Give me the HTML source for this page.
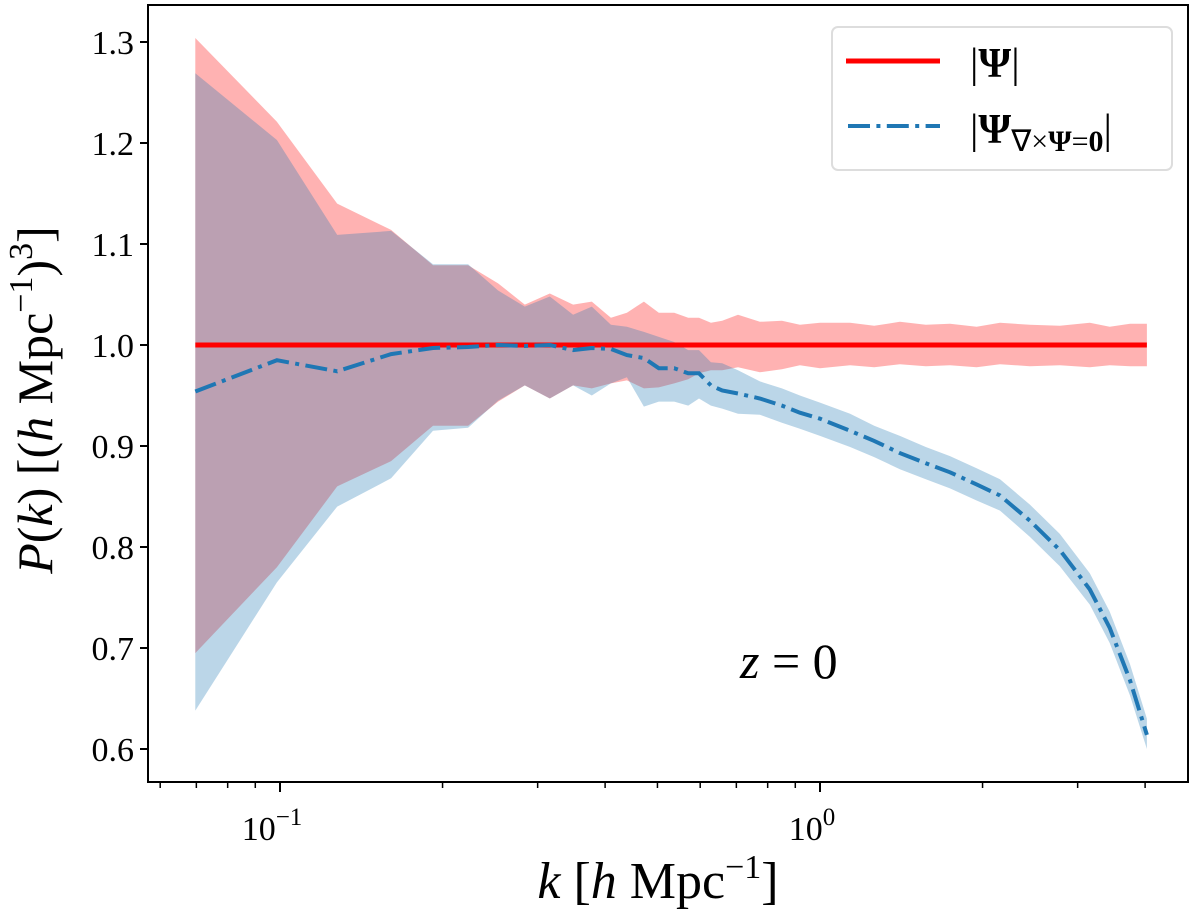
<!DOCTYPE html>
<html><head><meta charset="utf-8"><style>
body{margin:0;background:#fff}
svg text{font-family:"Liberation Serif",serif;fill:#000}
</style></head><body>
<svg id="chart" width="1200" height="915" xmlns="http://www.w3.org/2000/svg">
<g id="bands"></g>
<g id="lines"></g>
<rect x="148" y="5" width="1040" height="777" fill="none" stroke="#000" stroke-width="2"/>
<g id="yticks"></g>
<g id="xticks"></g>
<text x="658" y="898" font-size="52" text-anchor="middle"><tspan font-style="italic">k</tspan> [<tspan font-style="italic">h</tspan> Mpc<tspan dy="-20" font-size="34">−1</tspan><tspan dy="20">]</tspan></text>
<text transform="translate(52,400) rotate(-90)" font-size="50" text-anchor="middle"><tspan font-style="italic">P</tspan>(<tspan font-style="italic">k</tspan>) [(<tspan font-style="italic">h</tspan> Mpc<tspan dy="-20" font-size="34">−1</tspan><tspan dy="20">)</tspan><tspan dy="-20" font-size="34">3</tspan><tspan dy="20">]</tspan></text>
<text x="740" y="678" font-size="50"><tspan font-style="italic">z</tspan> = 0</text>
<g>
<rect x="832" y="27" width="340" height="143" rx="6" fill="#fff" fill-opacity="0.85" stroke="#ddd" stroke-width="2"/>
<line x1="846" y1="61" x2="940" y2="61" stroke="#ff0000" stroke-width="5"/>
<text x="970" y="77" font-size="42">|<tspan font-weight="bold">Ψ</tspan>|</text>
<line x1="848" y1="126" x2="940" y2="126" stroke="#1f77b4" stroke-width="4" stroke-dasharray="22,6.4,4,6.4"/>
<text x="970" y="143" font-size="42">|<tspan font-weight="bold">Ψ</tspan><tspan font-size="30" dy="8">∇×<tspan font-weight="bold">Ψ</tspan>=<tspan font-weight="bold">0</tspan></tspan><tspan dy="-8">|</tspan></text>
</g>
</svg>
<script>
const kVals=[0.0697,0.0987,0.1276,0.1606,0.192,0.223,0.2535,0.284,0.316,0.349,0.378,0.410,0.439,0.472,0.503,0.537,0.570,0.597,0.628,0.659,0.705,0.774,0.85,0.918,1.0,1.137,1.26,1.406,1.57,1.741,1.95,2.154,2.447,2.78,3.16,3.44,3.75,4.03];
const redHi=[1.304,1.221,1.140,1.114,1.079,1.079,1.061,1.040,1.051,1.040,1.043,1.027,1.032,1.043,1.032,1.032,1.027,1.027,1.022,1.024,1.030,1.023,1.024,1.020,1.022,1.022,1.019,1.023,1.020,1.021,1.018,1.022,1.020,1.019,1.022,1.018,1.021,1.021];
const redLo=[0.695,0.780,0.860,0.885,0.920,0.920,0.944,0.960,0.947,0.960,0.957,0.962,0.965,0.957,0.958,0.962,0.966,0.972,0.975,0.975,0.978,0.973,0.976,0.980,0.977,0.980,0.978,0.981,0.979,0.980,0.978,0.981,0.979,0.980,0.978,0.980,0.979,0.979];
const curlLine=[0.954,0.985,0.974,0.991,0.997,0.998,1.000,0.999,1.000,0.995,0.997,0.996,0.990,0.987,0.977,0.977,0.972,0.972,0.960,0.955,0.952,0.947,0.940,0.933,0.927,0.915,0.905,0.893,0.883,0.874,0.862,0.851,0.826,0.797,0.758,0.720,0.668,0.614];
const blueHi=[1.269,1.203,1.109,1.113,1.080,1.080,1.054,1.038,1.048,1.030,1.038,1.020,1.018,1.013,1.008,1.003,0.995,0.995,0.983,0.982,0.975,0.964,0.957,0.950,0.943,0.932,0.920,0.910,0.899,0.890,0.878,0.867,0.842,0.813,0.774,0.736,0.684,0.630];
const blueLo=[0.638,0.765,0.840,0.868,0.915,0.918,0.945,0.960,0.947,0.960,0.950,0.962,0.968,0.939,0.944,0.944,0.940,0.947,0.940,0.937,0.932,0.931,0.923,0.917,0.910,0.899,0.889,0.877,0.867,0.858,0.846,0.836,0.810,0.781,0.743,0.705,0.653,0.600];
const refLevel=[1.0];
const yTicks=[0.6,0.7,0.8,0.9,1.0,1.1,1.2,1.3];
const xMajor=[0.1,1];
const xMajorExp=["−1","0"];
const xMinor=[0.06,0.07,0.08,0.09,0.2,0.3,0.4,0.5,0.6,0.7,0.8,0.9,2,3,4];
const NS='http://www.w3.org/2000/svg';
function X(k){return 820+540*Math.log10(k);}
function Y(v){return 345-(v-1.0)*1010;}
function mk(tag,attrs,parent){const e=document.createElementNS(NS,tag);for(const a in attrs)e.setAttribute(a,attrs[a]);parent.appendChild(e);return e;}
function band(hi,lo){let d='M';kVals.forEach((k,i)=>{d+=X(k).toFixed(1)+','+Y(hi[i]).toFixed(1)+' L';});for(let i=kVals.length-1;i>=0;i--){d+=X(kVals[i]).toFixed(1)+','+Y(lo[i]).toFixed(1)+(i?' L':' Z');}return d;}
const bands=document.getElementById('bands');
const rb=mk('path',{d:band(redHi,redLo),fill:'#ff0000','fill-opacity':0.3},bands);


const bb=mk('path',{d:band(blueHi,blueLo),fill:'#1f77b4','fill-opacity':0.3},bands);


const lines=document.getElementById('lines');
const rl=mk('line',{x1:X(kVals[0]),x2:X(kVals[kVals.length-1]),y1:Y(refLevel[0]),y2:Y(refLevel[0]),stroke:'#ff0000','stroke-width':5},lines);


const bl=mk('polyline',{points:kVals.map((k,i)=>X(k).toFixed(1)+','+Y(curlLine[i]).toFixed(1)).join(' '),fill:'none',stroke:'#1f77b4','stroke-width':4,'stroke-dasharray':'22,6.4,4,6.4'},lines);


const yt=document.getElementById('yticks');
yTicks.forEach(v=>{
const t=mk('line',{x1:140,x2:148,y1:Y(v),y2:Y(v),stroke:'#000','stroke-width':2},yt);


const l=mk('text',{x:134,y:Y(v)+12,'font-size':34,'text-anchor':'end'},yt);
l.textContent=v.toFixed(1);


});
const xt=document.getElementById('xticks');
xMajor.forEach((k,i)=>{
const t=mk('line',{x1:X(k),x2:X(k),y1:782,y2:792,stroke:'#000','stroke-width':2},xt);


const l=mk('text',{x:X(k)-8,y:840,'font-size':34,'text-anchor':'middle'},xt);
l.textContent='10';


const s=mk('tspan',{dy:-15,'font-size':25},l);
s.textContent=xMajorExp[i];
});
xMinor.forEach(k=>{
const x=X(k); if(x<150)return;
const t=mk('line',{x1:x,x2:x,y1:782,y2:788,stroke:'#000','stroke-width':1.5},xt);


});
</script>
</body></html>
